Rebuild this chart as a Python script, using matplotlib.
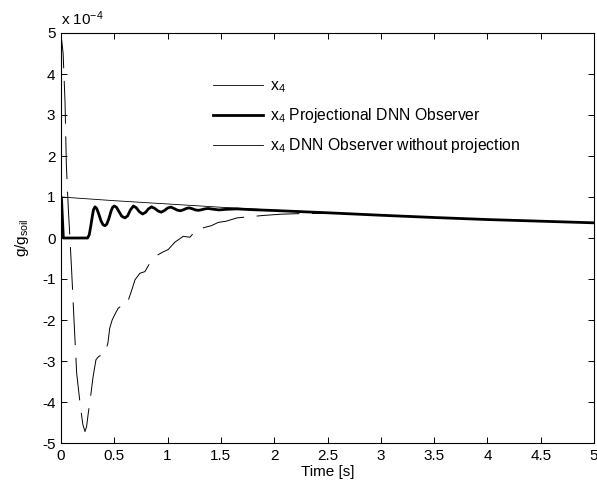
import matplotlib
matplotlib.use("Agg")
import matplotlib.pyplot as plt
from matplotlib.lines import Line2D

plt.rcParams['font.family'] = ['Liberation Sans', 'DejaVu Sans']
plt.rcParams['mathtext.default'] = 'regular'
plt.rcParams['font.size'] = 11

# x4 (true state)
t1 = [0, 0.5, 1, 1.5, 2, 2.5, 3, 3.5, 4, 4.5, 5]
y1 = [1.0, 0.91, 0.83, 0.75, 0.68, 0.62, 0.56, 0.50, 0.45, 0.41, 0.37]

# x4 projectional DNN observer
t2 = [0, 0.005, 0.012, 0.022, 0.25, 0.265, 0.28, 0.295, 0.305, 0.319, 0.335, 0.355,
      0.375, 0.395, 0.413, 0.43, 0.45, 0.47, 0.485, 0.50, 0.52, 0.545, 0.57, 0.60,
      0.625, 0.65, 0.679, 0.705, 0.735, 0.766, 0.795, 0.82, 0.85, 0.88, 0.91, 0.94,
      0.97, 1.0, 1.03, 1.06, 1.09, 1.12, 1.15, 1.175, 1.20, 1.23, 1.26, 1.29, 1.32,
      1.35, 1.38, 1.42, 1.48, 1.55, 1.65, 1.8, 2.0, 2.5, 3.0, 3.5, 4.0, 4.5, 5.0]
y2 = [1.0, 0.95, 0.55, 0.0, 0.0, 0.08, 0.30, 0.55, 0.69, 0.76, 0.72, 0.58,
      0.42, 0.32, 0.30, 0.34, 0.48, 0.66, 0.75, 0.78, 0.75, 0.64, 0.53, 0.49,
      0.54, 0.68, 0.78, 0.74, 0.64, 0.585, 0.63, 0.71, 0.76, 0.72, 0.66, 0.63,
      0.67, 0.73, 0.755, 0.72, 0.68, 0.665, 0.69, 0.72, 0.735, 0.715, 0.685, 0.675, 0.69,
      0.71, 0.72, 0.705, 0.685, 0.70, 0.71, 0.69, 0.67, 0.615, 0.555, 0.50, 0.45, 0.41, 0.37]

# x4 DNN observer without projection
t3 = [0, 0.006, 0.02, 0.038, 0.05, 0.069, 0.078, 0.1, 0.122, 0.147, 0.184, 0.205,
      0.225, 0.24, 0.256, 0.278, 0.3, 0.328, 0.35, 0.366, 0.39, 0.42, 0.44, 0.457,
      0.48, 0.504, 0.535, 0.566, 0.6, 0.62, 0.64, 0.66, 0.694, 0.74, 0.787, 0.834,
      0.87, 0.897, 0.95, 1.006, 1.069, 1.147, 1.21, 1.27, 1.35, 1.41, 1.475, 1.55,
      1.65, 1.77, 1.9, 2.06, 2.3, 2.6, 3.0, 3.5, 4.0, 4.5, 5.0]
y3 = [4.5, 4.84, 4.5, 3.3, 1.8, 0.69, 0.28, -0.81, -2.0, -3.3, -4.15, -4.55,
      -4.72, -4.6, -4.27, -3.86, -3.4, -2.97, -2.9, -2.87, -2.88, -2.75, -2.56, -2.2,
      -2.0, -1.87, -1.72, -1.65, -1.65, -1.62, -1.45, -1.30, -1.02, -0.86, -0.82, -0.61,
      -0.5, -0.43, -0.35, -0.28, -0.10, 0.04, 0.02, 0.20, 0.26, 0.30, 0.38, 0.41,
      0.49, 0.52, 0.55, 0.58, 0.60, 0.60, 0.56, 0.50, 0.45, 0.41, 0.37]

labels = ['x$_4$', 'x$_4$ Projectional DNN Observer', 'x$_4$ DNN Observer without projection']
xticks = [0, 0.5, 1, 1.5, 2, 2.5, 3, 3.5, 4, 4.5, 5]
xticklabels = ['0', '0.5', '1', '1.5', '2', '2.5', '3', '3.5', '4', '4.5', '5']
yticks = [-5, -4, -3, -2, -1, 0, 1, 2, 3, 4, 5]
yticklabels = ['-5', '-4', '-3', '-2', '-1', '0', '1', '2', '3', '4', '5']

fig = plt.figure(figsize=(5.97, 4.86), dpi=100)
ax = fig.add_axes([61/597, 1 - 443/486, 533/597, 410/486])

ax.plot(t1, y1, color='black', lw=0.6)
ax.plot(t2, y2, color='black', lw=2.0)
ax.plot(t3, y3, color='black', lw=0.7, linestyle=(0, (44, 13)))

ax.set_xlim(0, 5)
ax.set_ylim(-5, 5)
ax.set_xticks(xticks)
ax.set_xticklabels(xticklabels)
ax.set_yticks(yticks)
ax.set_yticklabels(yticklabels)
ax.tick_params(direction='in', top=True, right=True, length=4, width=0.7, pad=4, labelsize=11)
for s in ax.spines.values():
    s.set_linewidth(0.8)

ax.set_xlabel('Time [s]', fontsize=11, labelpad=2)
ax.set_ylabel('g/g$_{soil}$', fontsize=11, labelpad=8)
ax.text(0.0, 1.012, r'x 10$^{-4}$', transform=ax.transAxes, fontsize=11, ha='left', va='bottom')

handles = [Line2D([], [], color='black', lw=0.6),
           Line2D([], [], color='black', lw=2.0),
           Line2D([], [], color='black', lw=0.6)]
ax.legend(handles, labels, loc='upper left', bbox_to_anchor=((213 - 61) / 533, 1 - (78 - 33) / 410),
          frameon=False, fontsize=11.3, handlelength=3.2, handletextpad=0.45,
          labelspacing=0.72, borderpad=0, borderaxespad=0)

fig.savefig('out.png', dpi=100)
